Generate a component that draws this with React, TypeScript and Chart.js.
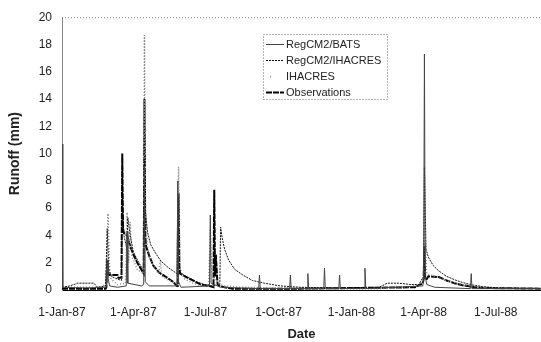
import React, { useEffect, useRef } from "react";
import { Chart, registerables } from "chart.js";

Chart.register(...registerables);

// Day 0 = 1-Jan-1987
const tickDays = [0, 90, 181, 273, 365, 456, 547];
const tickLabels = ["1-Jan-87", "1-Apr-87", "1-Jul-87", "1-Oct-87", "1-Jan-88", "1-Apr-88", "1-Jul-88"];
const yTicks = [0, 2, 4, 6, 8, 10, 12, 14, 16, 18, 20];

const batsDays = [0, 1, 30, 56, 57, 58, 60, 70, 81, 82, 83, 100, 103, 104, 105, 110, 145, 146, 147, 150, 186, 187, 188, 200, 248, 249, 250, 287, 288, 289, 309, 310, 311, 330, 331, 332, 349, 350, 351, 381, 382, 383, 455, 456, 457, 458, 460, 470, 515, 516, 517, 604];
const batsValues = [10.7, 0.2, 0.15, 0.2, 2.2, 0.9, 0.3, 0.2, 0.3, 4.3, 0.5, 0.3, 0.4, 9.0, 0.6, 0.3, 0.3, 8.0, 0.6, 0.2, 0.3, 5.5, 0.5, 0.2, 0.1, 1.1, 0.1, 0.1, 1.1, 0.1, 0.1, 1.2, 0.1, 0.1, 1.6, 0.1, 0.1, 1.1, 0.1, 0.1, 1.6, 0.1, 0.3, 0.8, 17.3, 1.0, 0.4, 0.2, 0.1, 1.2, 0.1, 0.1];

const regIhacresDays = [0, 10, 20, 40, 45, 55, 57, 59, 62, 70, 75, 76, 78, 82, 83, 86, 90, 95, 100, 103, 104, 105, 108, 112, 118, 125, 135, 145, 146, 147, 150, 160, 170, 180, 190, 199, 200, 202, 205, 210, 218, 228, 240, 255, 275, 300, 350, 400, 410, 425, 440, 450, 456, 457, 459, 462, 468, 475, 485, 495, 505, 515, 530, 550, 604];
const regIhacresValues = [0.2, 0.3, 0.5, 0.5, 0.2, 0.3, 4.5, 1.5, 1.0, 0.8, 0.7, 6.5, 4.0, 3.0, 5.3, 4.0, 2.8, 2.2, 1.7, 1.5, 9.5, 5.8, 4.2, 3.3, 2.7, 2.1, 1.6, 1.2, 6.8, 2.0, 1.2, 0.9, 0.6, 0.4, 0.3, 0.4, 4.6, 3.8, 3.0, 2.2, 1.5, 1.1, 0.7, 0.5, 0.3, 0.2, 0.15, 0.2, 0.5, 0.5, 0.4, 0.4, 1.0, 9.0, 3.0, 2.4, 1.8, 1.4, 1.0, 0.75, 0.55, 0.4, 0.25, 0.15, 0.1];

const ihacresDays = [0, 20, 50, 56, 58, 60, 62, 70, 80, 82, 84, 86, 88, 95, 103, 104, 105, 108, 115, 122, 124, 126, 135, 145, 147, 149, 155, 165, 175, 185, 187, 189, 195, 205, 230, 300, 400, 450, 456, 458, 460, 470, 480, 490, 500, 510, 520, 540, 604];
const ihacresValues = [0.2, 0.2, 0.2, 0.5, 5.6, 1.5, 0.8, 0.4, 0.5, 5.7, 2.0, 5.0, 2.5, 1.5, 1.2, 18.7, 6.0, 3.0, 1.8, 1.2, 2.1, 1.0, 0.7, 0.5, 9.05, 1.5, 0.8, 0.5, 0.3, 0.3, 4.5, 1.2, 0.5, 0.3, 0.2, 0.1, 0.1, 0.3, 0.8, 3.5, 1.2, 1.0, 0.8, 0.6, 0.45, 0.35, 0.25, 0.15, 0.1];

const obsDays = [0, 30, 55, 56, 57, 58, 60, 70, 71, 75, 76, 77, 78, 82, 86, 90, 95, 100, 103, 104, 105, 106, 110, 115, 122, 130, 140, 145, 146, 147, 148, 149, 155, 165, 175, 185, 191, 192, 193, 194, 196, 198, 205, 215, 300, 445, 455, 456, 457, 458, 460, 462, 475, 485, 495, 505, 515, 530, 604];
const obsValues = [0.1, 0.1, 0.1, 0.2, 2.2, 1.2, 1.1, 1.1, 0.9, 0.9, 10.0, 4.5, 4.2, 4.0, 3.2, 2.6, 2.0, 1.5, 1.2, 14.0, 4.0, 3.2, 2.5, 1.8, 1.3, 1.0, 0.6, 0.3, 0.3, 7.1, 1.5, 1.2, 1.0, 0.7, 0.4, 0.3, 0.2, 7.35, 1.0, 2.6, 0.5, 0.3, 0.2, 0.1, 0.1, 0.2, 0.5, 0.8, 3.2, 0.8, 0.8, 1.0, 0.95, 0.7, 0.5, 0.35, 0.25, 0.15, 0.1];

const seriesLabels = ["RegCM2/BATS", "RegCM2/IHACRES", "IHACRES", "Observations"];

const toPts = (d: number[], v: number[]) => d.map((x, i) => ({ x, y: v[i] }));

const FONT = "'Liberation Sans', Arial, sans-serif";

const frameAndLegend = {
  id: "frameAndLegend",
  afterDraw(chart: any) {
    const { ctx, chartArea } = chart;
    ctx.save();
    ctx.strokeStyle = "#888";
    ctx.lineWidth = 1;
    ctx.setLineDash([1, 2]);
    ctx.beginPath();
    ctx.moveTo(chartArea.left, chartArea.top + 0.5);
    ctx.lineTo(chartArea.right, chartArea.top + 0.5);
    ctx.stroke();
    const bx = 263, by = 34, bw = 124, bh = 65;
    ctx.strokeStyle = "#666";
    ctx.setLineDash([1, 2]);
    ctx.strokeRect(bx + 0.5, by + 0.5, bw, bh);
    const rows = [44, 60, 76, 92];
    chart.data.datasets.forEach((ds: any, i: number) => {
      const y = rows[i];
      ctx.strokeStyle = ds.borderColor;
      ctx.lineWidth = ds.borderWidth;
      ctx.setLineDash(ds.borderDash || []);
      ctx.beginPath();
      if (i === 2) {
        ctx.moveTo(270, y + 0.5);
        ctx.lineTo(273, y + 0.5);
      } else {
        ctx.moveTo(266, y + 0.5);
        ctx.lineTo(284, y + 0.5);
      }
      ctx.stroke();
      ctx.setLineDash([]);
      ctx.fillStyle = "#222";
      ctx.font = `11px ${FONT}`;
      ctx.textBaseline = "middle";
      ctx.textAlign = "left";
      ctx.fillText(ds.label, 286, y + 1);
    });
    ctx.restore();
  },
};

export default function App() {
  const ref = useRef<HTMLCanvasElement | null>(null);
  useEffect(() => {
    if (!ref.current) return;
    const chart = new Chart(ref.current, {
      type: "line",
      data: {
        datasets: [
          {
            label: seriesLabels[0],
            data: toPts(batsDays, batsValues),
            borderColor: "#444",
            borderWidth: 1,
            pointRadius: 0,
            tension: 0,
          },
          {
            label: seriesLabels[1],
            data: toPts(regIhacresDays, regIhacresValues),
            borderColor: "#111",
            borderWidth: 1,
            borderDash: [2, 1],
            pointRadius: 0,
            tension: 0,
          },
          {
            label: seriesLabels[2],
            data: toPts(ihacresDays, ihacresValues),
            borderColor: "#888",
            borderWidth: 1.5,
            borderDash: [1, 2],
            pointRadius: 0,
            tension: 0,
          },
          {
            label: seriesLabels[3],
            data: toPts(obsDays, obsValues),
            borderColor: "#000",
            borderWidth: 2,
            borderDash: [6, 1],
            pointRadius: 0,
            tension: 0,
          },
        ],
      },
      options: {
        animation: false,
        responsive: false,
        maintainAspectRatio: false,
        layout: { padding: { top: 16, right: 0, left: 0, bottom: 0 } },
        plugins: { legend: { display: false }, tooltip: { enabled: false } },
        scales: {
          x: {
            type: "linear",
            min: 0,
            max: 604,
            grid: { display: false, drawTicks: false },
            border: { display: true, color: "#000", width: 1 },
            afterBuildTicks: (s: any) => {
              s.ticks = tickDays.map((v) => ({ value: v }));
            },
            afterFit: (s: any) => {
              s.height = 52;
            },
            ticks: {
              padding: 15,
              maxRotation: 0,
              autoSkip: false,
              color: "#222",
              font: { family: FONT, size: 12 },
              callback: (v: any) => {
                const i = tickDays.indexOf(Number(v));
                return i >= 0 ? tickLabels[i] : "";
              },
            },
            title: {
              display: true,
              text: "Date",
              color: "#222",
              font: { family: FONT, size: 13, weight: "bold" },
              padding: { top: 0, bottom: 0 },
            },
          },
          y: {
            min: 0,
            max: 20,
            grid: { display: false, drawTicks: false },
            border: { display: true, color: "#888", width: 1, dash: [1, 2] },
            afterBuildTicks: (s: any) => {
              s.ticks = yTicks.map((v) => ({ value: v }));
            },
            afterFit: (s: any) => {
              s.width = 62;
            },
            ticks: {
              padding: 10,
              color: "#222",
              font: { family: FONT, size: 12 },
            },
            title: {
              display: true,
              text: "Runoff (mm)",
              color: "#222",
              font: { family: FONT, size: 14, weight: "bold" },
              padding: { top: 7, bottom: 0 },
            },
          },
        },
      },
      plugins: [frameAndLegend],
    });
    return () => chart.destroy();
  }, []);
  return (
    <div style={{ position: "absolute", left: 0, top: 0, width: 541, height: 342, background: "#fff" }}>
      <canvas ref={ref} width={541} height={342} style={{ display: "block" }} />
    </div>
  );
}
